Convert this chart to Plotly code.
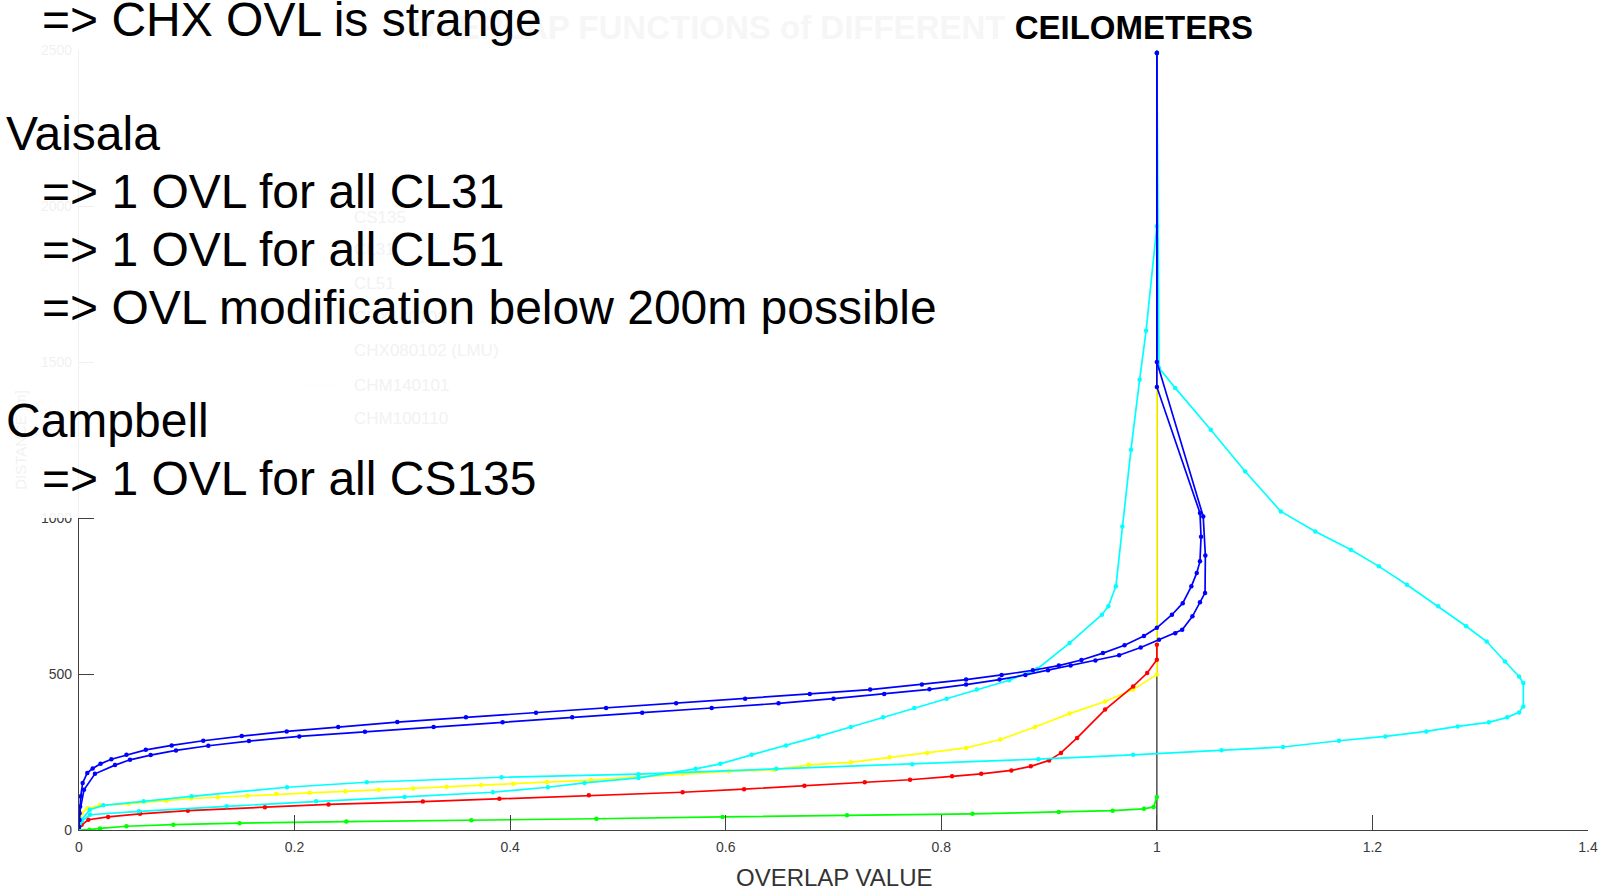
import plotly.graph_objects as go

# ---------------- data ----------------
x_ticks = [0, 0.2, 0.4, 0.6, 0.8, 1, 1.2, 1.4]
y_ticks = [0, 500, 1000, 1500, 2000, 2500]

ref_x = [1, 1]
ref_h = [0, 2500]

series_names = ["CS135", "CL31", "CL51", "CHX140101", "CHX080102 (LMU)", "CHM140101", "CHM100110"]
series_colors = ["#ffff00", "#ff0000", "#00ff00", "#00ffff", "#00ffff", "#0000ff", "#0000ff"]

yellow_x = [0, 0.0025, 0.008, 0.0195, 0.0457, 0.081, 0.104, 0.129, 0.156, 0.183, 0.214, 0.247,
            0.278, 0.310, 0.341, 0.373, 0.403, 0.434, 0.475, 0.518, 0.560, 0.603, 0.645, 0.677,
            0.716, 0.752, 0.787, 0.823, 0.855, 0.887, 0.919, 0.952, 0.978, 1.0, 1.0]
yellow_h = [0, 54, 70, 79, 84, 94, 101, 105, 110, 115, 119, 124,
            129, 133, 139, 144, 148, 154, 160, 170, 180, 188, 193, 209,
            217, 233, 247, 263, 290, 330, 373, 412, 450, 498, 2490]

red_x = [0, 0.0025, 0.0087, 0.027, 0.0566, 0.101, 0.1725, 0.2315, 0.319, 0.390, 0.473, 0.560,
         0.617, 0.673, 0.729, 0.771, 0.810, 0.837, 0.865, 0.883, 0.900, 0.911, 0.926, 0.952,
         0.978, 0.991, 1.0, 1.0]
red_h = [0, 17, 33, 42, 52, 62, 73, 82, 91, 100, 111, 121,
         131, 142, 153, 161, 172, 180, 191, 204, 223, 247, 295, 386,
         460, 503, 546, 594]

green_x = [0, 0.0096, 0.0195, 0.044, 0.0875, 0.149, 0.248, 0.364, 0.48, 0.597, 0.7125, 0.829,
           0.909, 0.959, 0.988, 0.997, 1.0]
green_h = [0, 1, 5, 12, 17, 22, 27, 31, 36, 42, 47, 52,
           58, 62, 68, 74, 106]

cyan1_x = [0, 0.0025, 0.0102, 0.0557, 0.137, 0.220, 0.302, 0.384, 0.435, 0.469, 0.519, 0.572,
           0.595, 0.624, 0.656, 0.686, 0.716, 0.746, 0.775, 0.805, 0.833, 0.863, 0.889, 0.919,
           0.949, 0.955, 0.962, 0.968, 0.976, 0.984, 0.990, 1.0, 1.0]
cyan1_h = [0, 28, 49, 60, 76, 92, 106, 121, 137, 151, 167, 196,
           212, 241, 271, 300, 330, 361, 391, 421, 450, 480, 516, 599,
           690, 717, 781, 973, 1219, 1443, 1600, 1935, 2490]

cyan2_x = [0, 0.0025, 0.010, 0.0226, 0.060, 0.1045, 0.193, 0.267, 0.392, 0.519, 0.647, 0.773,
           0.890, 0.978, 1.06, 1.117, 1.169, 1.212, 1.250, 1.279, 1.308, 1.325, 1.336, 1.340,
           1.340, 1.336, 1.323, 1.306, 1.287, 1.261, 1.232, 1.206, 1.180, 1.147, 1.115, 1.082,
           1.050, 1.017, 1.002, 1.0]
cyan2_h = [0, 33, 65, 79, 92, 108, 137, 153, 169, 179, 196, 211,
           227, 241, 256, 266, 286, 300, 316, 332, 345, 361, 377, 396,
           471, 492, 540, 604, 653, 717, 786, 845, 898, 957, 1021, 1149,
           1283, 1417, 1481, 2490]

blue1_x = [0, 0.0005, 0.0010, 0.0016, 0.0034, 0.0077, 0.0127, 0.020, 0.030, 0.044, 0.062, 0.086,
           0.1153, 0.151, 0.1927, 0.2405, 0.2953, 0.359, 0.424, 0.489, 0.554, 0.618, 0.678, 0.734,
           0.782, 0.823, 0.856, 0.885, 0.909, 0.930, 0.950, 0.970, 0.988, 1.0, 1.014, 1.024,
           1.032, 1.037, 1.040, 1.041, 1.040, 1.0, 1.0]
blue1_h = [10, 32, 75, 108, 151, 183, 197, 212, 227, 241, 257, 271,
           286, 301, 316, 330, 346, 361, 376, 391, 406, 421, 436, 450,
           466, 482, 497, 512, 527, 545, 567, 592, 622, 648, 690, 727,
           781, 824, 861, 940, 1016, 1420, 2490]

blue2_x = [0, 0.0005, 0.0046, 0.0148, 0.0334, 0.0473, 0.0665, 0.090, 0.120, 0.1577, 0.2044, 0.2653,
           0.329, 0.393, 0.4576, 0.5225, 0.587, 0.649, 0.700, 0.747, 0.789, 0.823, 0.854, 0.878,
           0.899, 0.920, 0.943, 0.965, 0.985, 1.002, 1.017, 1.0235, 1.033, 1.040, 1.0447, 1.045,
           1.043, 1.0, 1.0]
blue2_h = [10, 54, 129, 180, 208, 225, 240, 255, 270, 285, 300, 315,
           330, 345, 361, 376, 391, 406, 421, 436, 451, 466, 482, 497,
           512, 527, 543, 560, 585, 610, 631, 642, 685, 730, 760, 880,
           1005, 1500, 2490]

series_x = [yellow_x, red_x, green_x, cyan1_x, cyan2_x, blue1_x, blue2_x]
series_h = [yellow_h, red_h, green_h, cyan1_h, cyan2_h, blue1_h, blue2_h]

slide_lines = ["=> CHX OVL is strange", "Vaisala", "=> 1 OVL for all CL31", "=> 1 OVL for all CL51",
               "=> OVL modification below 200m possible", "Campbell", "=> 1 OVL for all CS135"]

# ---------------- layout helpers ----------------
W, H = 1603, 889
ML, MR, MT, MB = 79, 15, 50, 59
PW, PH = W - ML - MR, H - MT - MB


def pxx(x):
    return (x - ML) / PW


def pxy(y):
    return (H - MB - y) / PH


fig = go.Figure()

fig.add_trace(go.Scatter(x=ref_x, y=ref_h, mode="lines", line=dict(color="#333333", width=1.3),
                         showlegend=False, hoverinfo="skip"))

for name, col, xs, hs in zip(series_names, series_colors, series_x, series_h):
    fig.add_trace(go.Scatter(x=xs, y=hs, mode="lines+markers", name=name,
                             line=dict(color=col, width=1.7),
                             marker=dict(color=col, size=4.5)))

axis_col = "#404040"
fig.update_xaxes(range=[0, 1.4], tickvals=x_ticks, ticks="inside", ticklen=15, tickwidth=1.2,
                 tickcolor=axis_col, showline=True, linecolor=axis_col, linewidth=1.3,
                 showgrid=False, zeroline=False, automargin=False,
                 tickfont=dict(family="Liberation Sans", size=14, color="#3a3a3a"),
                 ticklabelstandoff=4)
fig.update_yaxes(range=[0, 2500], tickvals=y_ticks, ticks="inside", ticklen=15, tickwidth=1.2,
                 tickcolor=axis_col, showline=True, linecolor=axis_col, linewidth=1.3,
                 showgrid=False, zeroline=False, automargin=False,
                 tickfont=dict(family="Liberation Sans", size=14, color="#3a3a3a"),
                 ticklabelstandoff=3,
                 title=dict(text="DISTANCE [m]", standoff=10,
                            font=dict(family="Liberation Sans", size=15, color="#f2f2f2")))

shapes = []
# ghost legend (faded behind the slide text box)
lg_x0, lg_x1, lg_y0, lg_y1 = 286, 573, 194, 439
shapes.append(dict(type="rect", xref="paper", yref="paper", x0=pxx(lg_x0), x1=pxx(lg_x1),
                   y0=pxy(lg_y1), y1=pxy(lg_y0), line=dict(color="#ededed", width=1), layer="above"))
legend_rows = [217, 250, 283, 317, 350, 385, 418]
faded = ["#ffffc8", "#ffeaea", "#dcffdc", "#dcffff", "#eaffff", "#dcdcff", "#dcdcff"]
for row, fc in zip(legend_rows, faded):
    shapes.append(dict(type="line", xref="paper", yref="paper", x0=pxx(297), x1=pxx(343),
                       y0=pxy(row), y1=pxy(row), line=dict(color=fc, width=1), layer="above"))
# white box of the slide text that hides the upper-left of the chart
shapes.append(dict(type="rect", xref="paper", yref="paper", x0=pxx(0), x1=pxx(1010),
                   y0=pxy(518), y1=pxy(0), fillcolor="white", opacity=0.92,
                   line=dict(width=0), layer="above"))

annotations = []
for row, name in zip(legend_rows, series_names):
    annotations.append(dict(x=pxx(352), y=pxy(row), xref="paper", yref="paper", text=name,
                            showarrow=False, xanchor="left", yanchor="middle",
                            font=dict(family="Liberation Sans", size=17, color="#f2f2f2")))

# slide text
txt_size = 48
baselines = [35.8, 150.3, 208.0, 265.8, 324.0, 437.5, 495.0]
lefts = [40, 4, 40, 40, 40, 4, 40]
for s, b, l in zip(slide_lines, baselines, lefts):
    annotations.append(dict(x=pxx(l), y=pxy(b - 0.3465 * txt_size), xref="paper", yref="paper",
                            text=s, showarrow=False, xanchor="left", yanchor="middle",
                            font=dict(family="Liberation Sans, Arial", size=txt_size, color="black")))

annotations.append(dict(x=pxx(834.5), y=pxy(877), xref="paper", yref="paper", text="OVERLAP VALUE",
                        showarrow=False, xanchor="center", yanchor="middle",
                        font=dict(family="Liberation Sans", size=24, color="#333333")))

fig.update_layout(
    width=W, height=H,
    margin=dict(l=ML, r=MR, t=MT, b=MB, autoexpand=False),
    paper_bgcolor="white", plot_bgcolor="white",
    showlegend=False,
    shapes=shapes, annotations=annotations,
    title=dict(text='<span style="color:#f6f6f6">OVERLAP FUNCTIONS of DIFFERENT</span> CEILOMETERS',
               x=pxx(1253), xanchor="right", xref="paper", y=1 - 27 / H, yanchor="middle", yref="container",
               font=dict(family="Liberation Sans", size=33, color="black", weight="bold")),
)

fig.write_html("out.html", config={"displayModeBar": False},
               post_script="document.body.style.margin='0';document.body.style.overflow='hidden';")
